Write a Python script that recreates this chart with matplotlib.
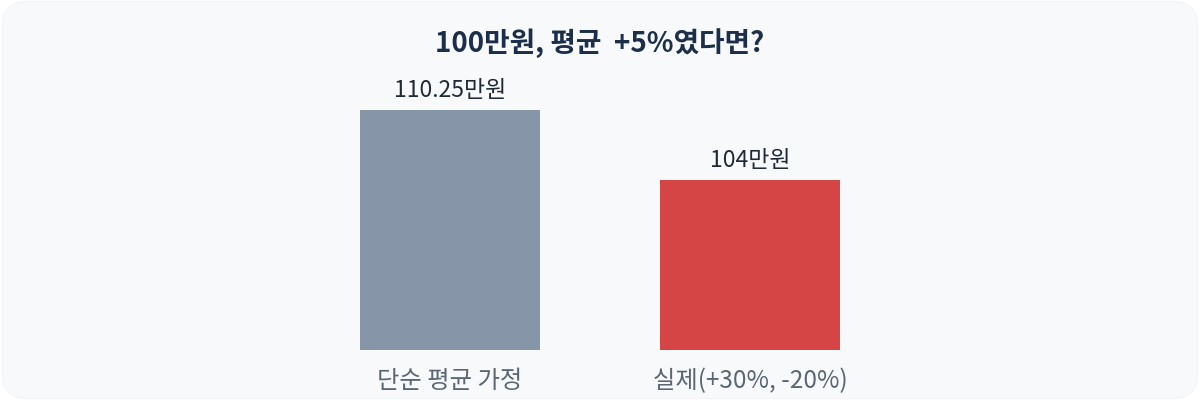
import matplotlib.pyplot as plt
from matplotlib.patches import FancyBboxPatch

plt.rcParams['font.family'] = ['Noto Sans CJK KR', 'DejaVu Sans']

categories = ["단순 평균 가정", "실제(+30%, -20%)"]
values = [110.25, 104]
value_labels = ["110.25만원", "104만원"]
colors = ["#8795a8", "#d64545"]
title = "100만원, 평균  +5%였다면?"

fig = plt.figure(figsize=(12, 4), dpi=100)
fig.patch.set_facecolor("white")

# rounded card background
card = FancyBboxPatch((0.002, 0.004), 0.996, 0.992,
                      boxstyle="round,pad=0,rounding_size=0.02",
                      transform=fig.transFigure, facecolor="#f8f9fa",
                      edgecolor="#f1f3f5", linewidth=0.6,
                      mutation_aspect=3, zorder=-10)
fig.patches.append(card)

# axes: x from 300px to 900px, y from 350px (bottom) to 90px
ax = fig.add_axes([0.25, 0.125, 0.5, 0.65])
ax.set_facecolor("none")
x = range(len(categories))
bars = ax.bar(x, values, width=0.6, color=colors)
ax.set_xlim(-0.5, 1.5)
ax.set_ylim(88.8, 112.03)

for b, lab in zip(bars, value_labels):
    ax.annotate(lab, (b.get_x() + b.get_width() / 2, b.get_height()),
                xytext=(0, 6), textcoords="offset points",
                ha="center", va="bottom", fontsize=16.5, color="#1f2937")

ax.set_xticks(list(x))
ax.set_xticklabels(categories, fontsize=17.5, color="#5b6675")
ax.tick_params(axis="x", length=0, pad=13)
ax.set_yticks([])
for s in ax.spines.values():
    s.set_visible(False)

fig.text(0.5, 0.893, title, ha="center", va="center", fontsize=20,
         fontweight="bold", color="#1b2f4a")

fig.savefig("out.png", dpi=100, facecolor=fig.get_facecolor())
